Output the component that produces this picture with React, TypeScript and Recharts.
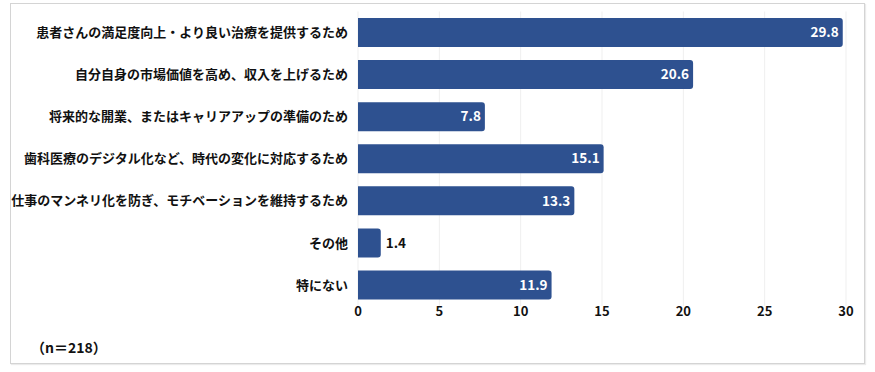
import { BarChart, Bar, XAxis, YAxis, CartesianGrid, LabelList } from 'recharts';

const categories = [
  '患者さんの満足度向上・より良い治療を提供するため',
  '自分自身の市場価値を高め、収入を上げるため',
  '将来的な開業、またはキャリアアップの準備のため',
  '歯科医療のデジタル化など、時代の変化に対応するため',
  '仕事のマンネリ化を防ぎ、モチベーションを維持するため',
  'その他',
  '特にない',
];
const values = [29.8, 20.6, 7.8, 15.1, 13.3, 1.4, 11.9];
const xTicks = [0, 5, 10, 15, 20, 25, 30];
const sampleNote = '（n＝218）';

const FONT = '"Noto Sans CJK JP", "Noto Sans", sans-serif';
const BAR_COLOR = '#2e5190';
const TEXT_COLOR = '#111111';

const data = categories.map((name, i) => ({ name, value: values[i] }));

const ValueLabel = (props: any) => {
  const { x, y, width, height, value } = props;
  const inside = value >= 5;
  return (
    <text
      x={inside ? x + width - 4 : x + width + 5}
      y={y + height / 2}
      dy="0.35em"
      textAnchor={inside ? 'end' : 'start'}
      fill={inside ? '#ffffff' : TEXT_COLOR}
      fontSize={13.5}
      fontWeight={700}
      fontFamily={FONT}
    >
      {value.toFixed(1)}
    </text>
  );
};

export default function App() {
  return (
    <div style={{ position: 'absolute', left: 0, top: 0, width: 875, height: 372, background: '#fff', fontFamily: FONT }}>
      <div
        style={{
          position: 'absolute',
          left: 10,
          top: 3,
          width: 853,
          height: 359,
          border: '1px solid #d4d4d4',
          boxShadow: '1px 1px 1px rgba(0,0,0,0.08)',
        }}
      />
      <div style={{ position: 'absolute', left: 0, top: 0 }}>
        <BarChart
          width={875}
          height={372}
          data={data}
          layout="vertical"
          margin={{ top: 11.5, right: 29, bottom: 36, left: 0 }}
          barCategoryGap="15.5%"
        >
          <CartesianGrid horizontal={false} stroke="#efefef" />
          <XAxis
            type="number"
            domain={[0, 30]}
            ticks={xTicks}
            height={30}
            axisLine={false}
            tickLine={false}
            tickSize={0}
            tickMargin={1}
            tick={{ fill: TEXT_COLOR, fontSize: 13, fontWeight: 700, fontFamily: FONT }}
          />
          <YAxis
            type="category"
            dataKey="name"
            width={358}
            axisLine={false}
            tickLine={false}
            tickSize={0}
            tickMargin={10}
            interval={0}
            tick={{ fill: TEXT_COLOR, fontSize: 13, fontWeight: 700, fontFamily: FONT }}
          />
          <Bar dataKey="value" fill={BAR_COLOR} radius={[0, 3, 3, 0]} isAnimationActive={false}>
            <LabelList dataKey="value" content={ValueLabel} />
          </Bar>
        </BarChart>
      </div>
      <div
        style={{
          position: 'absolute',
          left: 31,
          top: 336,
          fontSize: 14,
          fontWeight: 700,
          color: TEXT_COLOR,
          lineHeight: '22px',
        }}
      >
        {sampleNote}
      </div>
    </div>
  );
}
